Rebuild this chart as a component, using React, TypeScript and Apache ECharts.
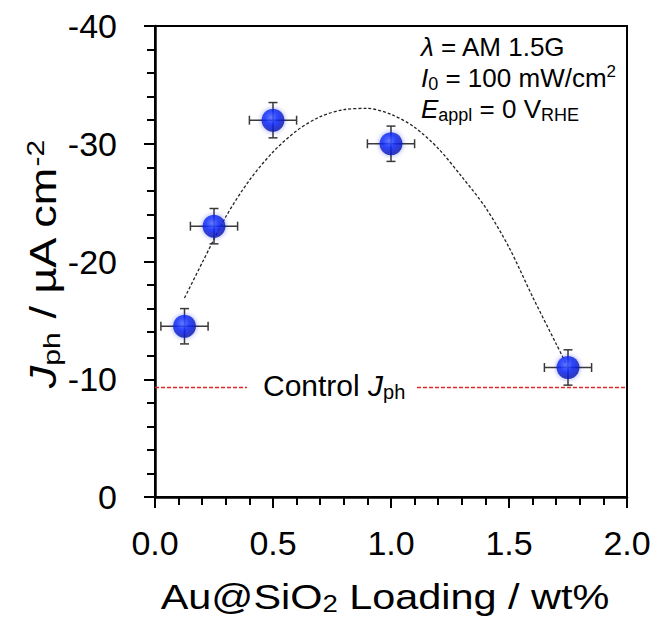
import React, { useEffect, useRef } from "react";
import * as echarts from "echarts";

// ---- data ----
const loading = [0.125, 0.25, 0.5, 1.0, 1.75];
const jph = [-14.5, -23, -32, -30, -11];
const xErr = [0.1, 0.1, 0.1, 0.1, 0.1];
const yErr = [1.5, 1.5, 1.5, 1.5, 1.5];

const fitX = [0.125, 0.2, 0.3, 0.4, 0.5, 0.6, 0.7, 0.8, 0.9, 1.0, 1.1, 1.2, 1.3, 1.4, 1.5, 1.6, 1.7, 1.75];
const fitY = [-16.9, -19.9, -23.8, -26.9, -29.3, -31.1, -32.3, -32.9, -33.0, -32.5, -31.4, -29.6, -27.2, -24.6, -21.2, -17.0, -13.0, -11.0];

const controlJph = -9.3;
const controlLeftX = [0, 0.39];
const controlRightX = [1.11, 2.0];

const xMin = 0, xMax = 2.0, xInterval = 0.5;
const yMin = -40, yMax = 0, yInterval = 10;

const FONT = '"Liberation Sans", Arial, Helvetica, sans-serif';

export default function App() {
  const ref = useRef<HTMLDivElement>(null);

  useEffect(() => {
    if (!ref.current) return;
    const chart = echarts.init(ref.current, undefined, { renderer: "svg" });

    const points = loading.map((x, i) => [x, jph[i], xErr[i], yErr[i]]);
    const fit = fitX.map((x, i) => [x, fitY[i]]);
    const ctrlL = controlLeftX.map((x) => [x, controlJph]);
    const ctrlR = controlRightX.map((x) => [x, controlJph]);

    const rightRich = {
      n: { fontSize: 26, lineHeight: 30, fontFamily: FONT, fill: "#000" },
      i: { fontSize: 26, lineHeight: 30, fontStyle: "italic", fontFamily: FONT, fill: "#000" },
      sub: { fontSize: 18, lineHeight: 12, verticalAlign: "bottom", fontFamily: FONT, fill: "#000" },
      sup: { fontSize: 17, lineHeight: 20, verticalAlign: "top", fontFamily: FONT, fill: "#000" },
    };
    const titleRich = {
      n: { fontSize: 36, lineHeight: 40, fontFamily: FONT, fill: "#000" },
      i: { fontSize: 36, lineHeight: 40, fontStyle: "italic", fontFamily: FONT, fill: "#000" },
      sub: { fontSize: 24, lineHeight: 14, verticalAlign: "bottom", fontFamily: FONT, fill: "#000" },
      sup: { fontSize: 24, lineHeight: 24, verticalAlign: "top", fontFamily: FONT, fill: "#000" },
    };
    const ctrlRich = {
      n: { fontSize: 30, lineHeight: 34, fontFamily: FONT, fill: "#000" },
      i: { fontSize: 30, lineHeight: 34, fontStyle: "italic", fontFamily: FONT, fill: "#000" },
      sub: { fontSize: 20, lineHeight: 15, verticalAlign: "bottom", fontFamily: FONT, fill: "#000" },
    };

    const txt = (x: number, y: number, text: string, rich: any, align: string, extra: any = {}) => ({
      type: "text",
      x,
      y,
      z: 100,
      ...extra,
      style: {
        text,
        rich,
        fontFamily: FONT,
        fill: "#000",
        align,
        textAlign: align,
        verticalAlign: "middle",
        textVerticalAlign: "middle",
      },
    });

    const tickStyle = { color: "#000", width: 2 };

    chart.setOption({
      animation: false,
      grid: {
        left: 155,
        right: 28,
        top: 26,
        bottom: 122,
        show: true,
        borderColor: "#000",
        borderWidth: 2,
        backgroundColor: "transparent",
      },
      xAxis: {
        type: "value",
        min: xMin,
        max: xMax,
        interval: xInterval,
        axisLine: { show: true, onZero: false, lineStyle: { color: "#000", width: 2.5 } },
        axisTick: { show: true, inside: false, length: 11, lineStyle: tickStyle },
        minorTick: { show: true, splitNumber: 5, length: 8, lineStyle: tickStyle },
        splitLine: { show: false },
        minorSplitLine: { show: false },
        axisLabel: {
          fontSize: 34,
          fontFamily: FONT,
          color: "#000",
          margin: 29,
          formatter: (v: number) => v.toFixed(1),
        },
      },
      yAxis: {
        type: "value",
        min: yMin,
        max: yMax,
        interval: yInterval,
        inverse: true,
        axisLine: { show: true, onZero: false, lineStyle: { color: "#000", width: 2.5 } },
        axisTick: { show: true, inside: false, length: 11, lineStyle: tickStyle },
        minorTick: { show: true, splitNumber: 5, length: 8, lineStyle: tickStyle },
        splitLine: { show: false },
        minorSplitLine: { show: false },
        axisLabel: {
          fontSize: 34,
          fontFamily: FONT,
          color: "#000",
          margin: 38,
        },
      },
      series: [
        {
          type: "line",
          data: ctrlL,
          showSymbol: false,
          symbol: "none",
          lineStyle: { color: "#e3262a", width: 1.4, type: [4, 2] },
          z: 2,
        },
        {
          type: "line",
          data: ctrlR,
          showSymbol: false,
          symbol: "none",
          lineStyle: { color: "#e3262a", width: 1.4, type: [4, 2] },
          z: 2,
        },
        {
          type: "line",
          data: fit,
          smooth: 0.3,
          showSymbol: false,
          symbol: "none",
          lineStyle: { color: "#222", width: 1.3, type: [3, 2] },
          z: 3,
        },
        {
          type: "custom",
          data: points,
          z: 4,
          renderItem: (params: any, api: any) => {
            const x = api.value(0);
            const y = api.value(1);
            const ex = api.value(2);
            const ey = api.value(3);
            const l = api.coord([x - ex, y]);
            const r = api.coord([x + ex, y]);
            const t = api.coord([x, y - ey]);
            const b = api.coord([x, y + ey]);
            const cap = 4.5;
            const style = { stroke: "#3a3a3a", lineWidth: 1.5, fill: null };
            return {
              type: "group",
              children: [
                { type: "line", shape: { x1: l[0], y1: l[1], x2: r[0], y2: r[1] }, style },
                { type: "line", shape: { x1: t[0], y1: t[1], x2: b[0], y2: b[1] }, style },
                { type: "line", shape: { x1: l[0], y1: l[1] - cap, x2: l[0], y2: l[1] + cap }, style },
                { type: "line", shape: { x1: r[0], y1: r[1] - cap, x2: r[0], y2: r[1] + cap }, style },
                { type: "line", shape: { x1: t[0] - cap, y1: t[1], x2: t[0] + cap, y2: t[1] }, style },
                { type: "line", shape: { x1: b[0] - cap, y1: b[1], x2: b[0] + cap, y2: b[1] }, style },
              ],
            };
          },
        },
        {
          type: "scatter",
          data: points.map((p) => [p[0], p[1]]),
          symbol: "circle",
          symbolSize: 23,
          z: 5,
          itemStyle: {
            color: {
              type: "radial",
              x: 0.42,
              y: 0.38,
              r: 0.62,
              colorStops: [
                { offset: 0, color: "#4f6dff" },
                { offset: 0.45, color: "#0f2cff" },
                { offset: 1, color: "#0612a8" },
              ],
            },
            shadowBlur: 5,
            shadowColor: "rgba(10,30,230,0.5)",
          },
        },
      ],
      graphic: [
        txt(421, 47, "{i|λ}{n| = AM 1.5G}", rightRich, "left"),
        txt(421, 78, "{i|I}{sub|0}{n| = 100 mW/cm}{sup|2}", rightRich, "left"),
        txt(421, 109, "{i|E}{sub|appl}{n| = 0 V}{sub|RHE}", rightRich, "left"),
        txt(263, 385, "{n|Control }{i|J}{sub|ph}", ctrlRich, "left"),
        txt(385, 596, "{n|Au@SiO}{sub|2}{n| Loading / wt%}", titleRich, "center", { scaleX: 1.15 }),
        txt(44, 264, "{i|J}{sub|ph}{n| / µA cm}{sup|-2}", titleRich, "center", {
          rotation: Math.PI / 2,
          scaleX: 1.25,
        }),
      ],
    });

    return () => chart.dispose();
  }, []);

  return (
    <div
      ref={ref}
      style={{ position: "fixed", left: 0, top: 0, width: 655, height: 619, background: "#fff" }}
    />
  );
}
